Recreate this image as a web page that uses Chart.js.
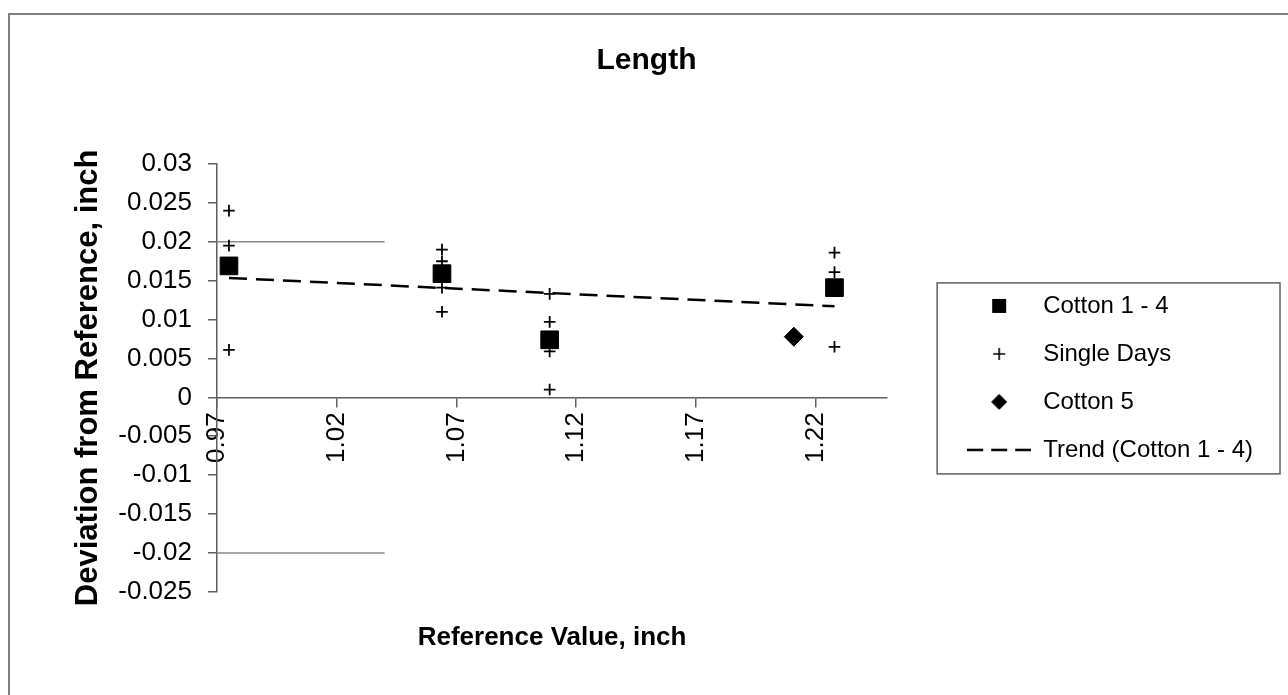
<!DOCTYPE html>
<html>
<head>
<meta charset="utf-8">
<title>Length</title>
<script src="https://cdn.jsdelivr.net/npm/chart.js@4.4.1/dist/chart.umd.min.js"></script>
<style>
    body { margin: 0; background: #ffffff; }
    #wrap { width: 1288px; height: 695px; position: relative; }
</style>
</head>
<body>
<div id="wrap">
    <canvas id="lengthChart"></canvas>
</div>
<script>
// values
const cottonX = [0.975, 1.064, 1.109, 1.228];
const cottonY = [0.0169, 0.0159, 0.0074, 0.0141];

const singleX = [0.975, 0.975, 0.975, 1.064, 1.064, 1.064, 1.064, 1.109, 1.109, 1.109, 1.109, 1.228, 1.228, 1.228];
const singleY = [0.024, 0.0195, 0.0061, 0.019, 0.0175, 0.0141, 0.011, 0.0133, 0.0097, 0.0059, 0.001, 0.0186, 0.0161, 0.0065];

const cotton5X = [1.211];
const cotton5Y = [0.0078];

const trendX = [0.975, 1.228];
const trendY = [0.01535, 0.0117];

const limitX = [0.97, 1.04];
const upperLimit = [0.02, 0.02];
const lowerLimit = [-0.02, -0.02];

const xTicks = [0.97, 1.02, 1.07, 1.12, 1.17, 1.22];
const yTicks = [-0.025, -0.02, -0.015, -0.01, -0.005, 0, 0.005, 0.01, 0.015, 0.02, 0.025, 0.03];

const seriesNames = ["Cotton 1 - 4", "Single Days", "Cotton 5", "Trend (Cotton 1 - 4)"];

const axisColor = "#5f5f5f";
const fontFamily = "'Liberation Sans', Arial, sans-serif";

function points(xs, ys) {
    return xs.map((x, i) => ({ x: x, y: ys[i] }));
}

// little pictures for the legend, so every entry gets the same box width
function makeIcon(kind) {
    const c = document.createElement("canvas");
    c.width = 64;
    c.height = 24;
    const g = c.getContext("2d");
    g.fillStyle = "#000";
    g.strokeStyle = "#000";
    if (kind === "square") {
        g.fillRect(25, 5, 14, 14);
    } else if (kind === "cross") {
        g.lineWidth = 1.6;
        g.beginPath();
        g.moveTo(26, 12); g.lineTo(38, 12);
        g.moveTo(32, 6); g.lineTo(32, 18);
        g.stroke();
    } else if (kind === "diamond") {
        g.beginPath();
        g.moveTo(32, 4); g.lineTo(40, 12); g.lineTo(32, 20); g.lineTo(24, 12);
        g.closePath();
        g.fill();
    } else {
        g.lineWidth = 2.5;
        g.setLineDash([16, 8]);
        g.beginPath();
        g.moveTo(0, 12); g.lineTo(64, 12);
        g.stroke();
    }
    return c;
}

const legendIcons = [makeIcon("square"), makeIcon("cross"), makeIcon("diamond"), makeIcon("dash")];

const frameBorder = {
    id: "frameBorder",
    beforeDraw(chart) {
        const ctx = chart.ctx;
        ctx.save();
        ctx.strokeStyle = "#7f7f7f";
        ctx.lineWidth = 2;
        ctx.strokeRect(9, 14, 1300, 700);
        ctx.restore();
    }
};

// the layout caps a side legend at a quarter of the width; let it keep its full text
const legendWidthFix = {
    id: "legendWidthFix",
    afterInit(chart) {
        const legend = chart.legend;
        if (!legend) return;
        const baseFit = legend.fit;
        legend.fit = function () {
            baseFit.call(this);
            const boxes = this.legendHitBoxes || [];
            if (!boxes.length) return;
            const widest = Math.max(...boxes.map(b => b.width));
            this.width = this.options.labels.padding + widest + 10;
        };
    }
};

const legendBorder = {
    id: "legendBorder",
    afterDraw(chart) {
        const boxes = chart.legend.legendHitBoxes;
        if (!boxes || !boxes.length) return;
        const left = Math.min(...boxes.map(b => b.left));
        const right = Math.max(...boxes.map(b => b.left + b.width));
        const top = Math.min(...boxes.map(b => b.top));
        const bottom = Math.max(...boxes.map(b => b.top + b.height));
        const ctx = chart.ctx;
        ctx.save();
        ctx.strokeStyle = "#5f5f5f";
        ctx.lineWidth = 1.5;
        ctx.strokeRect(left - 30, top - 11, right - left + 57, bottom - top + 23);
        ctx.restore();
    }
};

let lengthChart = null;

function loadChart() {

    const canvas = document.getElementById("lengthChart");

    if (!canvas) return;

    if (lengthChart) {
        lengthChart.destroy();
    }

    lengthChart = new Chart(canvas, {

        type: "scatter",

        data: {
            datasets: [
                {
                    label: seriesNames[0],
                    data: points(cottonX, cottonY),
                    pointStyle: "rect",
                    pointRadius: 12.5,
                    backgroundColor: "#000",
                    borderColor: "#000",
                    borderWidth: 1
                },
                {
                    label: seriesNames[1],
                    data: points(singleX, singleY),
                    pointStyle: "cross",
                    pointRadius: 5.8,
                    borderColor: "#000",
                    borderWidth: 1.8
                },
                {
                    label: seriesNames[2],
                    data: points(cotton5X, cotton5Y),
                    pointStyle: "rectRot",
                    pointRadius: 9.5,
                    backgroundColor: "#000",
                    borderColor: "#000",
                    borderWidth: 1
                },
                {
                    label: seriesNames[3],
                    data: points(trendX, trendY),
                    showLine: true,
                    pointRadius: 0,
                    borderColor: "#000",
                    borderWidth: 2.5,
                    borderDash: [18, 9]
                },
                {
                    label: "upper",
                    data: points(limitX, upperLimit),
                    showLine: true,
                    pointRadius: 0,
                    borderColor: "#8a8a8a",
                    borderWidth: 1.5
                },
                {
                    label: "lower",
                    data: points(limitX, lowerLimit),
                    showLine: true,
                    pointRadius: 0,
                    borderColor: "#8a8a8a",
                    borderWidth: 1.5
                }
            ]
        },

        options: {

            responsive: true,
            maintainAspectRatio: false,
            animation: false,

            layout: {
                padding: { left: 30, right: 25, top: 13, bottom: 34 }
            },

            scales: {
                x: {
                    type: "linear",
                    min: 0.97,
                    max: 1.25,
                    position: { y: 0 },
                    afterBuildTicks: scale => {
                        scale.ticks = xTicks.map(v => ({ value: v }));
                    },
                    ticks: {
                        color: "#000",
                        padding: 6,
                        minRotation: 90,
                        maxRotation: 90,
                        font: { family: fontFamily, size: 26 },
                        callback: value => Number(value).toFixed(2)
                    },
                    grid: {
                        drawOnChartArea: false,
                        drawTicks: true,
                        tickLength: 9,
                        color: axisColor,
                        lineWidth: 1.5
                    },
                    border: { color: axisColor, width: 1.5 }
                },
                xTitle: {
                    type: "linear",
                    axis: "x",
                    position: "bottom",
                    min: 0.97,
                    max: 1.25,
                    ticks: { display: false },
                    grid: { display: false, drawTicks: false },
                    border: { display: false },
                    title: {
                        display: true,
                        text: "Reference Value, inch",
                        color: "#000",
                        font: { family: fontFamily, size: 26, weight: "bold" },
                        padding: { top: 30, bottom: 8 }
                    }
                },
                y: {
                    type: "linear",
                    min: -0.025,
                    max: 0.03,
                    afterBuildTicks: scale => {
                        scale.ticks = yTicks.map(v => ({ value: v }));
                    },
                    afterFit: scale => {
                        scale.width = 187;
                    },
                    ticks: {
                        color: "#000",
                        padding: 16,
                        font: { family: fontFamily, size: 26 },
                        callback: value => String(Number(Number(value).toFixed(3)))
                    },
                    grid: {
                        drawOnChartArea: false,
                        drawTicks: true,
                        tickLength: 9,
                        color: axisColor,
                        lineWidth: 1.5
                    },
                    border: { color: axisColor, width: 1.5 },
                    title: {
                        display: true,
                        text: "Deviation from Reference, inch",
                        color: "#000",
                        font: { family: fontFamily, size: 31, weight: "bold" },
                        padding: { top: 40, bottom: 4 }
                    }
                },
                gap: {
                    type: "linear",
                    axis: "y",
                    position: "right",
                    ticks: { display: false },
                    grid: { display: false, drawTicks: false },
                    border: { display: false },
                    afterFit: scale => {
                        scale.width = 56;
                    }
                }
            },

            plugins: {
                title: {
                    display: true,
                    text: "Length",
                    color: "#000",
                    font: { family: fontFamily, size: 30, weight: "bold" },
                    padding: { top: 30, bottom: 85 }
                },
                legend: {
                    position: "right",
                    fullSize: false,
                    labels: {
                        color: "#000",
                        font: { family: fontFamily, size: 24 },
                        usePointStyle: true,
                        pointStyleWidth: 64,
                        padding: 24,
                        generateLabels: chart =>
                            Chart.defaults.plugins.legend.labels.generateLabels(chart)
                                .filter(item => item.datasetIndex < 4)
                                .map(item => Object.assign(item, {
                                    pointStyle: legendIcons[item.datasetIndex]
                                }))
                    },
                    onClick: () => {}
                },
                tooltip: { enabled: false }
            }
        },

        plugins: [frameBorder, legendWidthFix, legendBorder]
    });
}

window.onload = function () {
    loadChart();
};
</script>
</body>
</html>
